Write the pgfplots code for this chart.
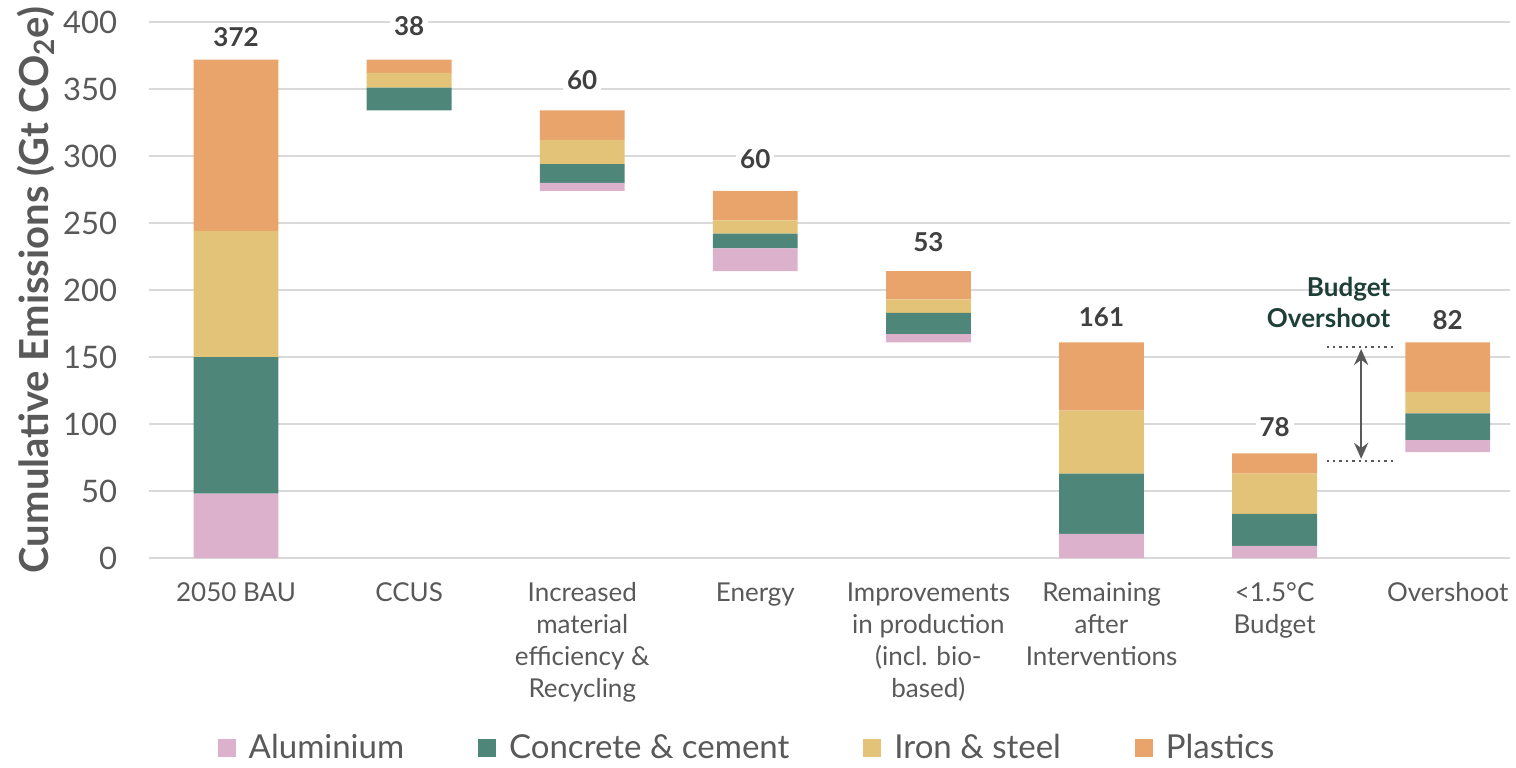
\documentclass[border=0pt]{standalone}
\usepackage{fontspec}
\setmainfont{Lato}
\usepackage{pgfplots}
\pgfplotsset{compat=1.18}
\usetikzlibrary{arrows.meta}
\definecolor{alu}{HTML}{DBB1CB}
\definecolor{conc}{HTML}{4E877A}
\definecolor{iron}{HTML}{E3C377}
\definecolor{plas}{HTML}{E9A46C}
\definecolor{txt}{HTML}{595959}
\definecolor{val}{HTML}{404040}
\definecolor{gridc}{HTML}{D9D9D9}
\definecolor{dgreen}{HTML}{1E3F37}
\begin{document}
\begin{tikzpicture}
\useasboundingbox (-74.75pt,-104.5pt) rectangle (683.25pt,279pt);
\begin{axis}[
  at={(0,0)}, anchor=south west,
  scale only axis, width=680.25pt, height=268pt,
  ybar stacked, bar width=0.49,
  legend image code/.code={\fill[#1] (0pt,-4.5pt) rectangle (9pt,4.5pt);},
  xmin=-0.5, xmax=7.36, ymin=0, ymax=400,
  ytick={0,50,...,400},
  xtick={0,...,7},
  xticklabels={{2050 BAU},{CCUS},{Increased\\material\\efficiency \&\\Recycling},{Energy},{Improvements\\in production\\(incl. bio-\\based)},{Remaining\\after\\Interventions},{<1.5°C\\Budget},{Overshoot}},
  axis line style={draw=none},
  tick style={draw=none},
  ymajorgrids, grid style={gridc, line width=0.75pt},
  /pgf/number format/assume math mode=true,
  yticklabel style={anchor=east, inner sep=0pt, xshift=-16pt, text=txt, font=\fontsize{15.5}{18}\selectfont},
  xticklabel style={anchor=north, inner sep=0pt, yshift=-12pt, align=center, text=txt, font=\fontsize{13}{16}\selectfont},
  every axis y label/.style={at={(rel axis cs:0,0.5)}, xshift=-57pt, rotate=90, anchor=center},
  ylabel={\bfseries Cumulative Emissions (Gt CO\textsubscript{2}e)},
  ylabel style={text=txt, font=\fontsize{20}{23}\selectfont},
  legend style={at={(0.44,0)}, anchor=center, yshift=-95pt, draw=none, legend columns=4,
    font=\fontsize{16.5}{19}\selectfont, text=txt,
    /tikz/every even column/.append style={column sep=35pt},
    /tikz/every odd column/.append style={column sep=4.5pt}},
  clip=false,
]
\addplot[draw=none, fill=none, forget plot] coordinates {(0,0) (1,334) (2,274) (3,214) (4,161) (5,0) (6,0) (7,79)};
\addplot[draw=none, fill=alu] coordinates {(0,48) (1,0) (2,6) (3,17) (4,6) (5,18) (6,9) (7,9)};
\addplot[draw=none, fill=conc] coordinates {(0,102) (1,17) (2,14) (3,11) (4,16) (5,45) (6,24) (7,20)};
\addplot[draw=none, fill=iron] coordinates {(0,94) (1,11) (2,18) (3,10) (4,10) (5,47) (6,30) (7,16)};
\addplot[draw=none, fill=plas] coordinates {(0,128) (1,10) (2,22) (3,22) (4,21) (5,51) (6,15) (7,37)};
\legend{Aluminium, Concrete \& cement, Iron \& steel, Plastics}

\tikzset{vl/.style={fill=white, inner sep=2pt, text=val, font=\bfseries\fontsize{13}{15}\selectfont}}
\node[vl] at (axis cs:0,389) {372};
\node[vl] at (axis cs:1,397) {38};
\node[vl] at (axis cs:2,357) {60};
\node[vl] at (axis cs:3,297.5) {60};
\node[vl] at (axis cs:4,235.5) {53};
\node[vl] at (axis cs:5,179.5) {161};
\node[vl] at (axis cs:6,97.5) {78};
\node[vl] at (axis cs:7,177.5) {82};

\draw[txt, line width=1pt, dash pattern=on 1.2pt off 2pt] (axis cs:6.30,157.5) -- (axis cs:6.69,157.5);
\draw[txt, line width=1pt, dash pattern=on 1.2pt off 2pt] (axis cs:6.30,72.5) -- (axis cs:6.69,72.5);
\draw[txt, line width=1.3pt, {Stealth[length=8pt,width=7pt]}-{Stealth[length=8pt,width=7pt]}] (axis cs:6.50,156) -- (axis cs:6.50,74);
\node[anchor=east, align=right, text=dgreen, inner sep=0pt, font=\bfseries\fontsize{13}{15.5}\selectfont] at (axis cs:6.67,190.5) {Budget\\Overshoot};
\end{axis}
\end{tikzpicture}
\end{document}
